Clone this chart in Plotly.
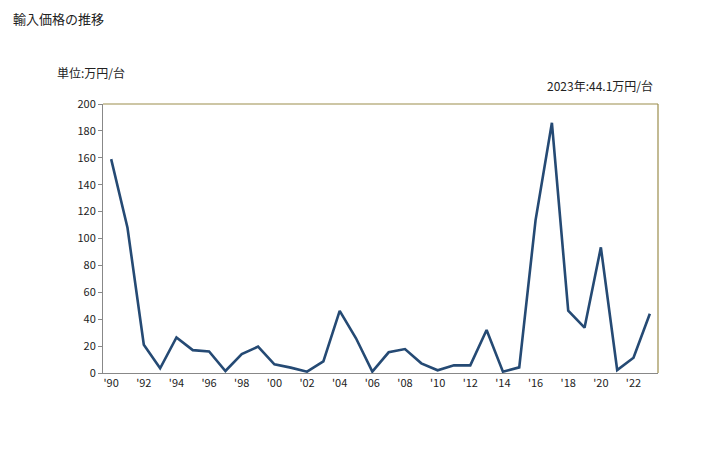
import plotly.graph_objects as go

years = list(range(1990, 2024))
values = [159, 108, 21, 3.5, 26.5, 17, 16, 1.5, 14, 19.6, 6.4, 4, 1, 8.7, 46.2, 25.8,
          1, 15.4, 17.8, 7.2, 2, 5.7, 5.7, 32, 1, 4.2, 113.7, 186, 46.3, 33.7, 93.4,
          2.2, 11.4, 44.1]
tick_years = list(range(1990, 2024, 2))
tick_labels = ["'" + str(y)[2:] for y in tick_years]
y_ticks = list(range(0, 201, 20))

font = "Noto Sans CJK JP, sans-serif"

fig = go.Figure()
fig.add_trace(go.Scatter(x=years, y=values, mode="lines",
                         line=dict(color="#254a74", width=2.6), hoverinfo="x+y"))

fig.update_layout(
    width=720, height=442,
    margin=dict(l=95, r=70, t=96, b=77),
    paper_bgcolor="white", plot_bgcolor="white",
    showlegend=False,
    font=dict(family=font, size=11, color="#222"),
    xaxis=dict(range=[1989.5, 2023.5], tickvals=tick_years, ticktext=tick_labels,
               showgrid=False, zeroline=False, showline=True, linecolor="#888",
               linewidth=1, ticks="", tickfont=dict(size=11, color="#222")),
    yaxis=dict(range=[0, 200], tickvals=y_ticks, showgrid=False, zeroline=False,
               showline=True, linecolor="#888", linewidth=1, ticks="outside",
               ticklen=4, tickcolor="#888", tickfont=dict(size=11, color="#222")),
    shapes=[
        dict(type="line", xref="paper", yref="paper", x0=0, x1=1, y0=1, y1=1,
             line=dict(color="#9b8d4c", width=1.2)),
        dict(type="line", xref="paper", yref="paper", x0=1, x1=1, y0=0, y1=1,
             line=dict(color="#9b8d4c", width=1.2)),
    ],
    annotations=[
        dict(text="輸入価格の推移", xref="paper", yref="paper", x=-92/555, y=1 + 86/269,
             xanchor="left", yanchor="middle", showarrow=False, font=dict(size=13, color="#222")),
        dict(text="単位:万円/台", xref="paper", yref="paper", x=-48/555, y=1 + 31/269,
             xanchor="left", yanchor="middle", showarrow=False, font=dict(size=12, color="#222")),
        dict(text="2023年:44.1万円/台", xref="paper", yref="paper", x=1 - 3/555, y=1 + 19/269,
             xanchor="right", yanchor="middle", showarrow=False, font=dict(size=12, color="#222")),
    ],
)

fig.write_html("out.html")
